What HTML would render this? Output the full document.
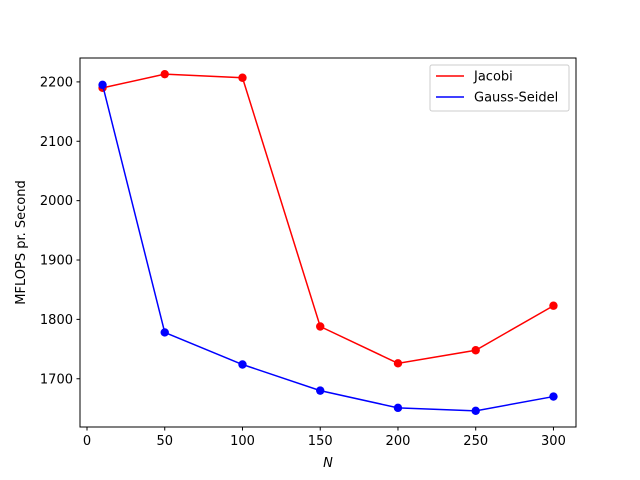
<!DOCTYPE html>
<html><head><meta charset="utf-8"><style>body{margin:0;background:#fff}svg{display:block;font-family:"DejaVu Sans","Liberation Sans",sans-serif}</style></head>
<body>
<svg id="chart" width="640" height="480"></svg>
<script>
const categories=[10,50,100,150,200,250,300];
const jacobiValues=[2190,2213,2207,1788,1726,1748,1823];
const gaussSeidelValues=[2195,1778,1724,1680,1651,1646,1670];
const xTicks=[0,50,100,150,200,250,300];
const yTicks=[1700,1800,1900,2000,2100,2200];
const L=80,R=576,T=58,B=427;
const xmin=-4.5,xmax=314.5,ymin=1618.75,ymax=2240.25;
const X=v=>L+(v-xmin)/(xmax-xmin)*(R-L);
const Y=v=>B-(v-ymin)/(ymax-ymin)*(B-T);
const svg=document.getElementById('chart');
const NS='http://www.w3.org/2000/svg';
function mk(tag,attrs,parent){const e=document.createElementNS(NS,tag);for(const k in attrs)e.setAttribute(k,attrs[k]);(parent||svg).appendChild(e);return e;}
const frame=mk('rect',{x:L,y:T,width:R-L,height:B-T,fill:'none',stroke:'#000','stroke-width':1});


xTicks.forEach(t=>{
  const g=mk('g',{});
  
  
  mk('line',{x1:X(t),x2:X(t),y1:B,y2:B+3.5,stroke:'#000'},g);
  const tx=mk('text',{x:X(t),y:B+18,'text-anchor':'middle','font-size':13},g);tx.textContent=t;
});
yTicks.forEach(t=>{
  const g=mk('g',{});
  
  
  mk('line',{x1:L-3.5,x2:L,y1:Y(t),y2:Y(t),stroke:'#000'},g);
  const tx=mk('text',{x:L-7,y:Y(t)+4.5,'text-anchor':'end','font-size':13},g);tx.textContent=t;
});
const xl=mk('text',{x:(L+R)/2,y:467,'text-anchor':'middle','font-size':13,'font-style':'italic'});xl.textContent='N';


const yl=mk('text',{x:0,y:0,'text-anchor':'middle','font-size':13,transform:`translate(25,${(T+B)/2}) rotate(-90)`});yl.textContent='MFLOPS pr. Second';


function series(vals,color,name){
  const g=mk('g',{});
  
  
  mk('polyline',{points:categories.map((c,i)=>X(c)+','+Y(vals[i])).join(' '),fill:'none',stroke:color,'stroke-width':1.5},g);
  categories.forEach((c,i)=>{
    const p=mk('circle',{cx:X(c),cy:Y(vals[i]),r:4.2,fill:color},g);
    
    
  });
}
series(jacobiValues,'#ff0000','jacobi-series');
series(gaussSeidelValues,'#0000ff','gauss-seidel-series');
const lg=mk('g',{});


mk('rect',{x:430,y:65,width:139,height:46,rx:2,fill:'#fff',stroke:'#ccc'},lg);
mk('line',{x1:436,x2:464,y1:76,y2:76,stroke:'#ff0000','stroke-width':1.5},lg);
let t1=mk('text',{x:474,y:80.5,'font-size':13},lg);t1.textContent='Jacobi';
mk('line',{x1:436,x2:464,y1:97,y2:97,stroke:'#0000ff','stroke-width':1.5},lg);
let t2=mk('text',{x:474,y:101.5,'font-size':13},lg);t2.textContent='Gauss-Seidel';
</script>
</body></html>
